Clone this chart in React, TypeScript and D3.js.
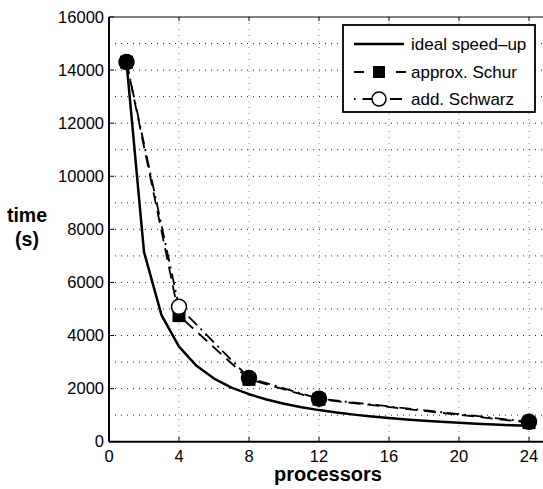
import React from "react";
import * as d3 from "d3";

const idealP = [1,2,3,4,5,6,7,8,9,10,11,12,13,14,15,16,17,18,19,20,21,22,23,24];
const idealT = [14300,7150,4770,3580,2860,2380,2040,1790,1590,1430,1300,1190,1100,1020,950,890,840,790,750,715,680,650,620,600];
const measP = [1, 4, 8, 12, 24];
const schurT = [14300, 4750, 2350, 1600, 720];
const schwarzT = [14300, 5080, 2400, 1620, 750];
const xTicks = [0, 4, 8, 12, 16, 20, 24];
const yTicks = [0, 2000, 4000, 6000, 8000, 10000, 12000, 14000, 16000];
const yGrid = d3.range(1000, 16000, 1000);
const legendLabels = ["ideal speed\u2013up", "approx. Schur", "add. Schwarz"];

const W = 543, H = 489;
const L = 109, T = 17, B = 441.7;

export default function App() {
  const x = d3.scaleLinear().domain([0, 25]).range([L, L + 437.5]);
  const y = d3.scaleLinear().domain([0, 16000]).range([B, T]);
  const line = d3.line<[number, number]>().x(d => x(d[0])).y(d => y(d[1]));
  const ideal = line(idealP.map((p, i) => [p, idealT[i]]));
  const schur = line(measP.map((p, i) => [p, schurT[i]]));
  const schwarz = line(measP.map((p, i) => [p, schwarzT[i]]));
  const font = "Liberation Sans, Arial, Helvetica, sans-serif";
  const right = W + 5;
  const lg = { x: 343, y: 25, w: 192, h: 87 };
  const rows = [44, 72, 99];
  return (
    <svg width={W} height={H} style={{ position: "absolute", left: 0, top: 0, background: "#fff" }} fontFamily={font}>
      <rect x={0} y={0} width={W} height={H} fill="#fff" />
      {yGrid.map(v => (
        <line key={"gy" + v} x1={L} x2={right} y1={y(v)} y2={y(v)} stroke="#222" strokeWidth={1} strokeDasharray="1,5" />
      ))}
      {xTicks.filter(v => v > 0).map(v => (
        <line key={"gx" + v} x1={x(v)} x2={x(v)} y1={T} y2={B} stroke="#888" strokeWidth={1} strokeDasharray="1,5" />
      ))}
      <line x1={L} x2={right} y1={B} y2={B} stroke="#000" strokeWidth={2} />
      <line x1={L} x2={right} y1={T} y2={T} stroke="#000" strokeWidth={1} />
      <line x1={L} x2={L} y1={T} y2={B} stroke="#000" strokeWidth={2} />
      {xTicks.map(v => (
        <g key={"xt" + v}>
          <line x1={x(v)} x2={x(v)} y1={B} y2={B - 5} stroke="#000" />
          <line x1={x(v)} x2={x(v)} y1={T} y2={T + 4} stroke="#000" />
          <text x={x(v)} y={B + 20} textAnchor="middle" fontSize={16.5}>{v}</text>
        </g>
      ))}
      {yTicks.map(v => (
        <g key={"yt" + v}>
          <line x1={L} x2={L + 5} y1={y(v)} y2={y(v)} stroke="#000" />
          <text x={L - 5} y={y(v) + 5.5} textAnchor="end" fontSize={16.5}>{v}</text>
        </g>
      ))}
      <text x={328} y={481} textAnchor="middle" fontSize={20} fontWeight="bold">processors</text>
      <text x={27} y={222} textAnchor="middle" fontSize={19.5} fontWeight="bold">time</text>
      <text x={27} y={246} textAnchor="middle" fontSize={19.5} fontWeight="bold">(s)</text>
      <path d={ideal || ""} fill="none" stroke="#000" strokeWidth={2.5} strokeLinejoin="round" />
      <path d={schur || ""} fill="none" stroke="#000" strokeWidth={1.8} strokeDasharray="12,7" />
      <path d={schwarz || ""} fill="none" stroke="#000" strokeWidth={1.8} strokeDasharray="12,5,2,5" />
      {measP.map((p, i) => (
        <rect key={"sq" + p} x={x(p) - 6.5} y={y(schurT[i]) - 6.5} width={13} height={13} fill="#000" />
      ))}
      {measP.map((p, i) => {
        const overlap = Math.abs(y(schurT[i]) - y(schwarzT[i])) < 3;
        return (
          <circle key={"ci" + p} cx={x(p)} cy={y(schwarzT[i])} r={7.5} fill={overlap ? "#000" : "#fff"} stroke="#000" strokeWidth={1.5} />
        );
      })}
      <rect x={lg.x} y={lg.y} width={lg.w} height={lg.h} fill="#fff" stroke="#000" strokeWidth={1.8} />
      <line x1={354} x2={404} y1={rows[0]} y2={rows[0]} stroke="#000" strokeWidth={2.5} />
      <line x1={352} x2={406} y1={rows[1]} y2={rows[1]} stroke="#000" strokeWidth={1.8} strokeDasharray="10,11" strokeDashoffset={-2} />
      <rect x={379 - 6} y={rows[1] - 6} width={12} height={12} fill="#000" />
      <line x1={352} x2={406} y1={rows[2]} y2={rows[2]} stroke="#000" strokeWidth={1.8} strokeDasharray="1.5,7,12,7" strokeDashoffset={-2} />
      <circle cx={379} cy={rows[2]} r={7} fill="#fff" stroke="#000" strokeWidth={1.5} />
      {legendLabels.map((s, i) => (
        <text key={s} x={411} y={rows[i] + 5.5} fontSize={17}>{s}</text>
      ))}
    </svg>
  );
}
